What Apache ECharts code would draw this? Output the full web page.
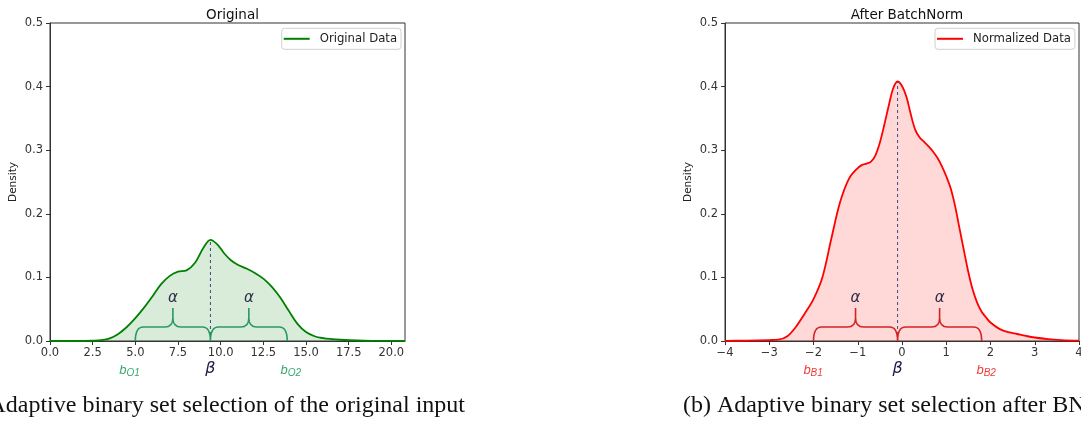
<!DOCTYPE html>
<html><head><meta charset="utf-8">
<script src="https://cdn.jsdelivr.net/npm/echarts@6/dist/echarts.min.js"></script>
<style>html,body{margin:0;padding:0;background:#fff}#c{width:1081px;height:423px}</style>
</head><body><div id="c"></div><script>
// ---------- data ----------
const xLeft = [0,1,2,2.5,3,3.5,4,4.5,5,5.5,6,6.5,7,7.5,8,8.5,9,9.4,9.8,10.2,10.6,11,11.5,12,12.5,13,13.5,14,14.5,15,15.5,16,16.5,17,18,19,20,20.8];
const yLeft = [0,0,0.0001,0.0004,0.0012,0.004,0.011,0.022,0.036,0.052,0.070,0.089,0.102,0.109,0.111,0.123,0.147,0.159,0.152,0.138,0.127,0.120,0.114,0.107,0.098,0.085,0.068,0.047,0.027,0.014,0.0075,0.0045,0.003,0.002,0.0008,0.0003,0.0001,0];
const xRight = [-4,-3.5,-3,-2.8,-2.6,-2.4,-2.2,-2.0,-1.8,-1.6,-1.4,-1.2,-1.0,-0.9,-0.8,-0.7,-0.6,-0.5,-0.4,-0.3,-0.2,-0.1,0,0.1,0.2,0.3,0.4,0.5,0.6,0.7,0.8,0.9,1.0,1.1,1.2,1.3,1.4,1.5,1.6,1.7,1.8,1.9,2.0,2.2,2.4,2.6,2.8,3.0,3.3,3.6,4.0];
const yRight = [0.0002,0.0006,0.0015,0.002,0.007,0.022,0.043,0.066,0.100,0.160,0.218,0.255,0.272,0.277,0.279,0.282,0.292,0.312,0.340,0.370,0.397,0.408,0.401,0.384,0.356,0.332,0.320,0.313,0.306,0.298,0.288,0.275,0.259,0.240,0.212,0.177,0.142,0.108,0.080,0.060,0.046,0.037,0.029,0.019,0.014,0.011,0.008,0.0055,0.003,0.0015,0.0005];

const leftXTicks = [0,2.5,5,7.5,10,12.5,15,17.5,20];
const rightXTicks = [-4,-3,-2,-1,0,1,2,3,4];
const yTicks = [0,0.1,0.2,0.3,0.4,0.5];

const betaLeft = 9.4;
const betaRight = -0.1;
const leftBrace = [5.0, 9.4, 13.9];      // start, beta, end
const rightBrace = [-2.0, -0.1, 1.8];
const braceFlat = 0.022, braceTip = 0.052;

const leftLabelX = [4.6, 9.4, 14.05];
const leftLabelText = [['b','O1'],['β',''],['b','O2']];
const rightLabelX = [-2.02, -0.1, 1.89];
const rightLabelText = [['b','B1'],['β',''],['b','B2']];

const titles = ['Original', 'After BatchNorm'];
const legendNames = ['Original Data', 'Normalized Data'];
const captions = ['(a) Adaptive binary set selection of the original input', '(b) Adaptive binary set selection after BN'];

// ---------- helpers ----------
const pairs = (xs, ys) => xs.map((x, i) => [x, ys[i]]);
const peakAt = (xs, ys, b) => ys[xs.indexOf(b)];
const SANS = 'DejaVu Sans';
const minus = v => (v < 0 ? '\u2212' + Math.abs(v) : String(v));

function braceRender(color) {
  return function (params, api) {
    const x0 = api.value(0), xm = api.value(1), x1 = api.value(2);
    const yb = api.coord([x0, 0])[1];
    const yh = api.coord([x0, braceFlat])[1];
    const yt = api.coord([x0, braceTip])[1];
    const a = api.coord([x0, 0])[0], m = api.coord([xm, 0])[0], b = api.coord([x1, 0])[0];
    const t1 = (a + m) / 2, t2 = (m + b) / 2;
    const r = 8, s = 9;
    function half(p, q, tip) {
      return 'M' + p + ',' + yb + ' Q' + p + ',' + yh + ' ' + (p + r) + ',' + yh +
        ' L' + (tip - r) + ',' + yh + ' Q' + tip + ',' + yh + ' ' + tip + ',' + (yh - s) +
        ' L' + tip + ',' + yt +
        ' M' + tip + ',' + (yh - s) + ' Q' + tip + ',' + yh + ' ' + (tip + r) + ',' + yh +
        ' L' + (q - r) + ',' + yh + ' Q' + q + ',' + yh + ' ' + q + ',' + yb;
    }
    const alphaStyle = {text: 'α', fontSize: 15, fontStyle: 'italic', fontFamily: SANS, fill: '#2c2c48', align: 'center', verticalAlign: 'middle'};
    return {
      type: 'group',
      children: [
        {type: 'path', shape: {pathData: half(a, m, t1) + ' ' + half(m, b, t2)}, style: {stroke: color, lineWidth: 1.6, fill: null}},
        {type: 'text', x: t1, y: yt - 10, style: alphaStyle},
        {type: 'text', x: t2, y: yt - 10, style: alphaStyle}
      ]
    };
  };
}

function labelRender(texts, color) {
  return function (params, api) {
    const p = api.coord([api.value(0), 0]);
    const [main, sub] = texts[params.dataIndex];
    if (!sub) {
      return {type: 'text', x: p[0], y: p[1] + 28, style: {text: main, fontSize: 16, fontStyle: 'italic', fontFamily: SANS, fill: '#1c1c4a', align: 'center', verticalAlign: 'middle'}};
    }
    return {type: 'group', children: [
      {type: 'text', x: p[0] - 2, y: p[1] + 29, style: {text: main, fontSize: 13, fontStyle: 'italic', fontFamily: 'Liberation Sans', fill: color, align: 'right', verticalAlign: 'middle'}},
      {type: 'text', x: p[0] - 2, y: p[1] + 31.8, style: {text: sub, fontSize: 10, fontStyle: 'italic', fontFamily: 'Liberation Sans', fill: color, align: 'left', verticalAlign: 'middle'}}
    ]};
  };
}

const axisLineStyle = {show: true, onZero: false, lineStyle: {color: '#333', width: 1}};

const grids = [
  {left: 50, top: 23, width: 355, height: 318},
  {left: 725, top: 23, width: 354, height: 318}
];

const option = {
  animation: false,
  backgroundColor: '#fff',
  title: [
    {text: titles[0], left: 227.5, top: 3, textAlign: 'center', textStyle: {fontSize: 13.5, fontWeight: 'normal', color: '#111', fontFamily: SANS}},
    {text: titles[1], left: 902, top: 3, textAlign: 'center', textStyle: {fontSize: 13.5, fontWeight: 'normal', color: '#111', fontFamily: SANS}}
  ],
  legend: [
    {data: [legendNames[0]], left: 281.7, top: 28.3, orient: 'vertical', icon: 'rect', itemWidth: 26, itemHeight: 2,
      padding: [4, 4, 4, 2], borderColor: '#d0d0d0', borderWidth: 1, borderRadius: 3, backgroundColor: '#fff',
      textStyle: {fontSize: 11.7, fontFamily: SANS, color: '#222', lineHeight: 13, padding: [0, 0, 0, 5]}},
    {data: [legendNames[1]], left: 935, top: 28.3, orient: 'vertical', icon: 'rect', itemWidth: 26, itemHeight: 2,
      padding: [4, 4, 4, 2], borderColor: '#d0d0d0', borderWidth: 1, borderRadius: 3, backgroundColor: '#fff',
      textStyle: {fontSize: 11.7, fontFamily: SANS, color: '#222', lineHeight: 13, padding: [0, 0, 0, 5]}}
  ],
  grid: grids.map(g => Object.assign({show: true, borderColor: '#333', borderWidth: 1, backgroundColor: 'transparent', containLabel: false, outerBoundsMode: 'none'}, g)),
  xAxis: [
    {type: 'value', gridIndex: 0, min: 0, max: 20.8, interval: 2.5, axisLine: axisLineStyle, splitLine: {show: false},
      axisTick: {show: true, length: 4, lineStyle: {color: '#333'}, customValues: leftXTicks},
      axisLabel: {customValues: leftXTicks, formatter: v => v.toFixed(1), fontSize: 11.5, fontFamily: SANS, color: '#333', margin: 6}},
    {type: 'value', gridIndex: 1, min: -4, max: 4, interval: 1, axisLine: axisLineStyle, splitLine: {show: false},
      axisTick: {show: true, length: 4, lineStyle: {color: '#333'}, customValues: rightXTicks},
      axisLabel: {customValues: rightXTicks, formatter: v => minus(v), fontSize: 11.5, fontFamily: SANS, color: '#333', margin: 6}}
  ],
  yAxis: [0, 1].map(i => ({type: 'value', gridIndex: i, min: 0, max: 0.5, interval: 0.1,
    axisLine: axisLineStyle, splitLine: {show: false},
    name: 'Density', nameLocation: 'middle', nameGap: 31, nameRotate: 90,
    nameTextStyle: {fontSize: 10.5, fontFamily: SANS, color: '#222'},
    axisTick: {show: true, length: 4, lineStyle: {color: '#333'}, customValues: yTicks},
    axisLabel: {customValues: yTicks, formatter: v => v.toFixed(1), fontSize: 11.5, fontFamily: SANS, color: '#333', margin: 7}})),
  series: [
    {name: legendNames[0], type: 'line', xAxisIndex: 0, yAxisIndex: 0, data: pairs(xLeft, yLeft), symbol: 'none',
      smooth: 0.35, color: '#008000', lineStyle: {color: '#008000', width: 1.8},
      areaStyle: {color: 'rgba(0,128,0,0.21)'}, z: 2},
    {name: legendNames[1], type: 'line', xAxisIndex: 1, yAxisIndex: 1, data: pairs(xRight, yRight), symbol: 'none',
      smooth: 0.35, color: '#ff0000', lineStyle: {color: '#ff0000', width: 1.8},
      areaStyle: {color: 'rgba(255,0,0,0.22)'}, z: 2},
    {name: 'betaL', type: 'line', xAxisIndex: 0, yAxisIndex: 0, symbol: 'none', silent: true,
      data: [[betaLeft, 0], [betaLeft, peakAt(xLeft, yLeft, betaLeft)]], lineStyle: {color: '#3c4a80', width: 1, type: [3, 3]}, z: 3},
    {name: 'betaR', type: 'line', xAxisIndex: 1, yAxisIndex: 1, symbol: 'none', silent: true,
      data: [[betaRight, 0], [betaRight, peakAt(xRight, yRight, betaRight)]], lineStyle: {color: '#3c4a80', width: 1, type: [3, 3]}, z: 3},
    {name: 'braceL', type: 'custom', xAxisIndex: 0, yAxisIndex: 0, data: [leftBrace], renderItem: braceRender('#2a9a62'), clip: false, z: 4, silent: true},
    {name: 'braceR', type: 'custom', xAxisIndex: 1, yAxisIndex: 1, data: [rightBrace], renderItem: braceRender('#d42424'), clip: false, z: 4, silent: true},
    {name: 'labL', type: 'custom', xAxisIndex: 0, yAxisIndex: 0, data: leftLabelX.map(x => [x]), renderItem: labelRender(leftLabelText, '#3aa872'), clip: false, z: 4, silent: true},
    {name: 'labR', type: 'custom', xAxisIndex: 1, yAxisIndex: 1, data: rightLabelX.map(x => [x]), renderItem: labelRender(rightLabelText, '#f03c3c'), clip: false, z: 4, silent: true}
  ],
  graphic: [
    {type: 'text', x: 465, y: 405.5, style: {text: captions[0], font: '24px "Liberation Serif"', fill: '#111', align: 'right', verticalAlign: 'middle'}},
    {type: 'text', x: 683, y: 405.5, style: {text: captions[1], font: '24px "Liberation Serif"', fill: '#111', align: 'left', verticalAlign: 'middle'}}
  ]
};

const chart = echarts.init(document.getElementById('c'), null, {renderer: 'canvas'});
chart.setOption(option);
</script></body></html>
